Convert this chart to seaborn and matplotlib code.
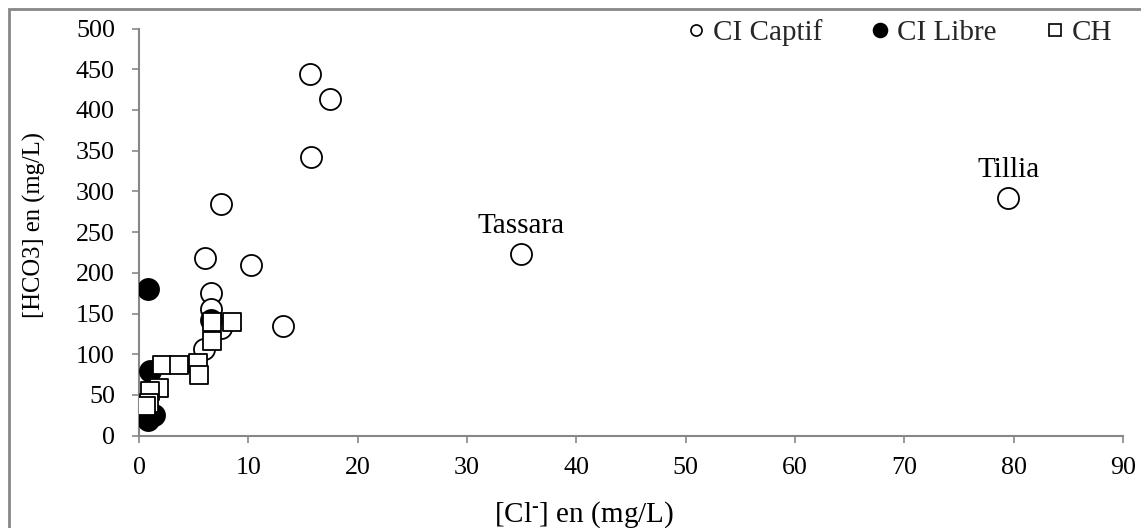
import matplotlib
matplotlib.use("Agg")
import matplotlib.pyplot as plt
import seaborn as sns
import pandas as pd
from matplotlib.patches import Rectangle
from matplotlib.lines import Line2D

# ---- data ----
captif_x = [15.6, 17.5, 15.7, 7.5, 6.0, 10.2, 6.6, 6.6, 7.5, 5.95, 13.2, 34.9, 79.5]
captif_y = [444, 414, 342, 285, 218, 209, 175, 155, 132, 107, 135, 223, 292]
libre_x = [0.85, 6.6, 1.0, 0.85, 1.4]
libre_y = [180, 142, 80, 19, 25]
ch_x = [6.7, 8.5, 6.7, 2.1, 3.7, 5.4, 5.5, 1.8, 1.0, 0.9, 0.6]
ch_y = [139, 140, 116, 87, 87, 89, 74, 58, 55, 40, 36]
annot_names = ["Tassara", "Tillia"]
annot_x = [34.9, 79.5]
annot_y = [223, 292]
x_ticks = [0, 10, 20, 30, 40, 50, 60, 70, 80, 90]
y_ticks = [0, 50, 100, 150, 200, 250, 300, 350, 400, 450, 500]
legend_labels = ["CI Captif", "CI Libre", "CH"]

sns.set_theme(style="white")
plt.rcParams['font.family'] = ['Liberation Serif', 'DejaVu Serif']
plt.rcParams['mathtext.fontset'] = 'custom'
plt.rcParams['mathtext.rm'] = 'Liberation Serif'
plt.rcParams['mathtext.it'] = 'Liberation Serif:italic'
plt.rcParams['mathtext.bf'] = 'Liberation Serif:bold'
GRAY = "#878787"

W, H = 1141, 528
fig = plt.figure(figsize=(W / 100, H / 100), dpi=100)
ax = fig.add_axes([139 / W, 1 - 435.7 / H, (1123 - 139) / W, (435.7 - 28.5) / H])

df_c = pd.DataFrame({"x": captif_x, "y": captif_y})
df_l = pd.DataFrame({"x": libre_x, "y": libre_y})
df_h = pd.DataFrame({"x": ch_x, "y": ch_y})

sns.scatterplot(data=df_c, x="x", y="y", ax=ax, marker="o", s=230,
                facecolor="white", edgecolor="black", linewidth=1.3,
                legend=False, zorder=3)
sns.scatterplot(data=df_l, x="x", y="y", ax=ax, marker="o", s=230,
                color="black", edgecolor="black", linewidth=1.3,
                legend=False, zorder=4)
sns.scatterplot(data=df_h, x="x", y="y", ax=ax, marker="s", s=180,
                facecolor="white", edgecolor="black", linewidth=1.3,
                legend=False, zorder=5)

for name, xv, yv in zip(annot_names, annot_x, annot_y):
    ax.annotate(name, (xv, yv), xytext=(0, 15), textcoords="offset points",
                ha="center", va="baseline", fontsize=21, color="black")

ax.set_xlim(0, 90)
ax.set_ylim(0, 500)
ax.set_xticks(x_ticks)
ax.set_yticks(y_ticks)
ax.tick_params(axis="both", labelsize=18.7, colors="black", length=5.3,
               width=1.2, color=GRAY, direction="out", left=True, bottom=True)
ax.tick_params(axis="y", pad=12)
ax.tick_params(axis="x", pad=10)
for sp in ["top", "right"]:
    ax.spines[sp].set_visible(False)
for sp in ["left", "bottom"]:
    ax.spines[sp].set_color(GRAY)
    ax.spines[sp].set_linewidth(1.5)

ax.set_xlabel("[Cl$^{\\mathrm{\u2010}}$] en (mg/L)", fontsize=21, color="black")
ax.xaxis.set_label_coords((584 - 139) / 984, -(499 - 435.7) / 407)
ax.set_ylabel("[HCO3] en (mg/L)", fontsize=17.7, color="black")
ax.yaxis.set_label_coords(-(139 - 46) / 984, (435.7 - 225) / 407)

handles = [
    Line2D([], [], linestyle="none", marker="o", markersize=8,
           markerfacecolor="white", markeredgecolor="black", markeredgewidth=1.2),
    Line2D([], [], linestyle="none", marker="o", markersize=10,
           markerfacecolor="black", markeredgecolor="black", markeredgewidth=1.2),
    Line2D([], [], linestyle="none", marker="s", markersize=9,
           markerfacecolor="white", markeredgecolor="black", markeredgewidth=1.2),
]
leg = fig.legend(handles, legend_labels, loc="center right", ncol=3,
                 frameon=False, fontsize=21, handlelength=0.5,
                 handletextpad=0.32, columnspacing=1.75, borderpad=0.0,
                 borderaxespad=0.0,
                 bbox_to_anchor=(1112 / W, 1 - 33 / H),
                 bbox_transform=fig.transFigure)

fig.patches.append(Rectangle((8.7 / W, -0.1), 1.2, 1 - 8.7 / H + 0.1,
                             transform=fig.transFigure, fill=False,
                             edgecolor=GRAY, linewidth=2.0))

fig.savefig("out.png", dpi=100)
